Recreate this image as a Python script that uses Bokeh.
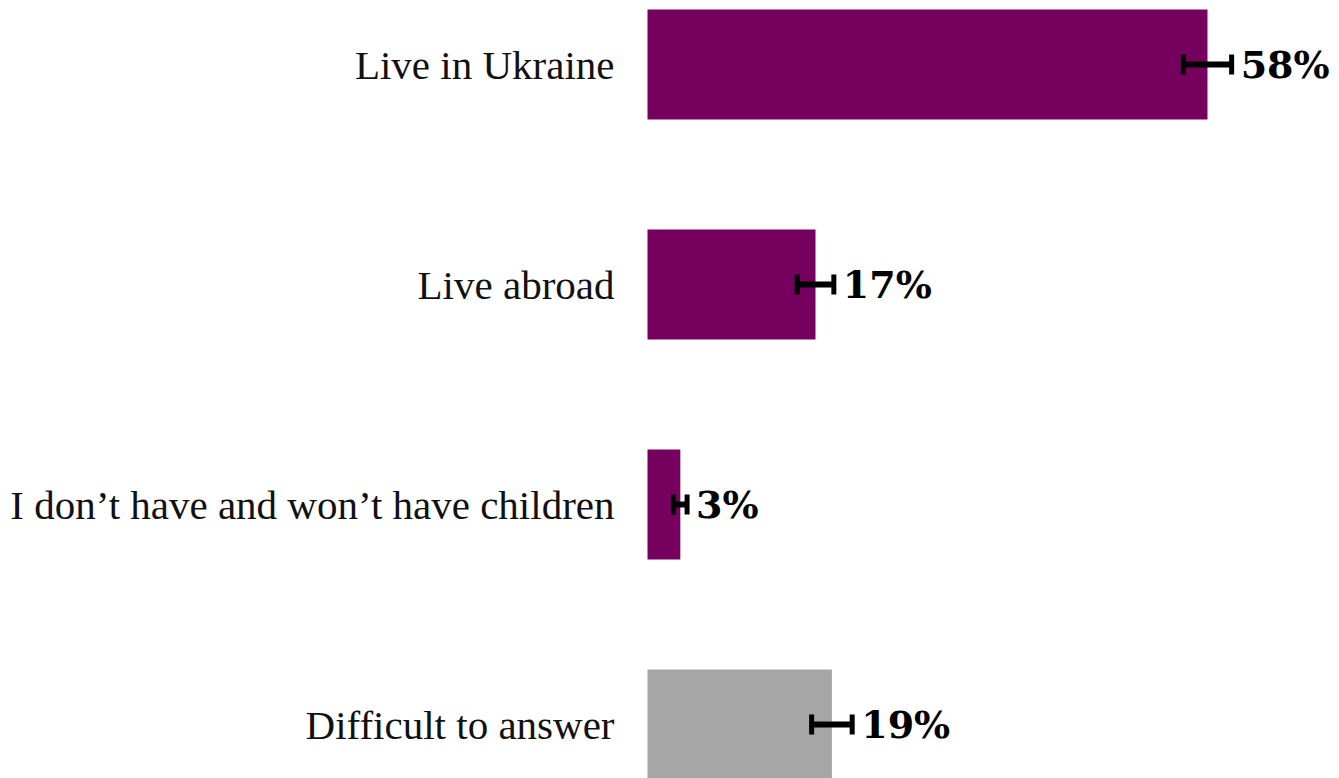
from bokeh.plotting import figure
from bokeh.models import ColumnDataSource, Range1d, Whisker
from bokeh.core.properties import value
from bokeh.embed import file_html
from bokeh.resources import INLINE

categories = ["Live in Ukraine", "Live abroad", "I don\u2019t have and won\u2019t have children", "Difficult to answer"]
values = [58.0, 17.4, 3.4, 19.1]
errors = [2.5, 1.9, 0.7, 2.1]
labels = ["58%", "17%", "3%", "19%"]
colors = ["#76005e", "#76005e", "#76005e", "#a6a6a6"]

pos = list(range(len(categories)))
src = ColumnDataSource(dict(
    y=pos, v=values, cat=categories, lab=labels, col=colors,
    lo=[v - e for v, e in zip(values, errors)],
    hi=[v + e for v, e in zip(values, errors)],
))

W, H = 1339, 778
px_per = 9.655
x0 = 647
ytop = -64 / 220.0
p = figure(width=W, height=H, output_backend="svg", toolbar_location=None,
           x_range=Range1d(-x0 / px_per, (W - x0) / px_per),
           y_range=Range1d(ytop + H / 220.0, ytop),
           min_border=0, outline_line_color=None)
p.axis.visible = False
p.grid.visible = False
p.background_fill_color = "white"

p.hbar(y="y", left=0, right="v", height=0.5, fill_color="col", line_color=None, source=src)

w = Whisker(base="y", lower="lo", upper="hi", dimension="width", source=src,
            line_color="black", line_width=6, level="overlay")
w.upper_head.size = 20
w.lower_head.size = 20
w.upper_head.line_width = 5
w.lower_head.line_width = 5
p.add_layout(w)

p.text(x=0, y="y", text="cat", source=src, x_offset=-33, text_align="right",
       text_baseline="middle", text_font=value("Liberation Serif"),
       text_font_size="41px", text_color="#111111")
p.text(x="hi", y="y", text="lab", source=src, x_offset=9, text_align="left",
       text_baseline="middle", text_font=value("DejaVu Serif"), text_font_style="bold",
       text_font_size="38px", text_color="black")

open("out.html", "w").write(file_html(p, INLINE))
